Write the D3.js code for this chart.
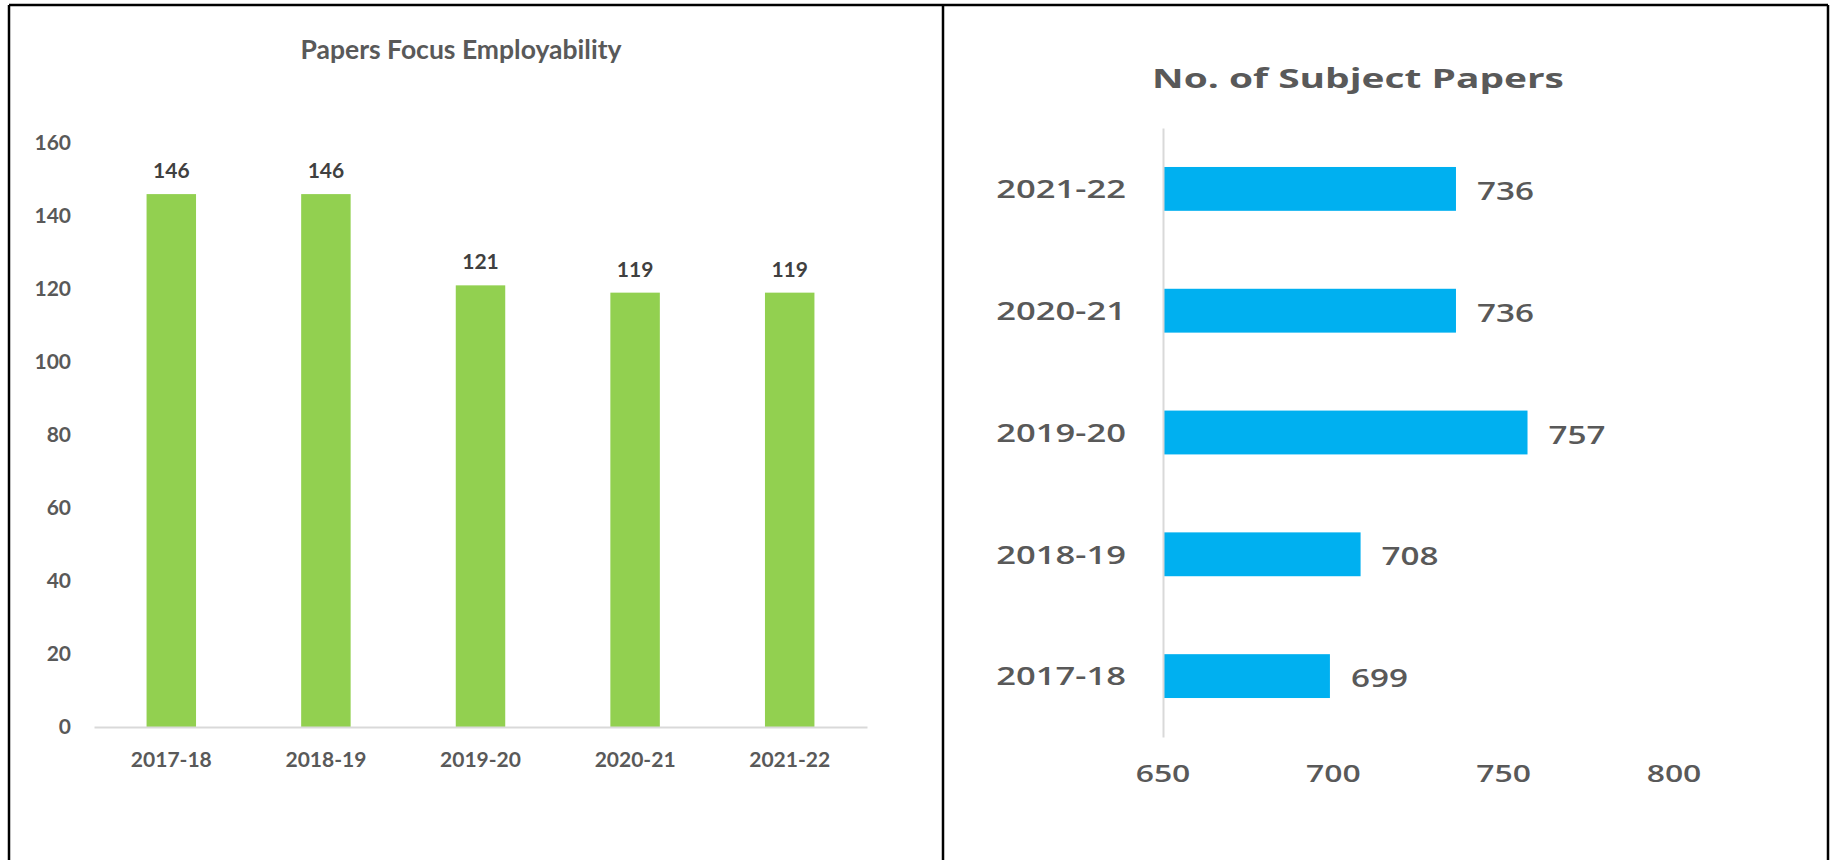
<!DOCTYPE html>
<html>
<head>
<meta charset="utf-8">
<script src="https://cdn.jsdelivr.net/npm/d3@7"></script>
<style>
  body { margin: 0; background: #fff; }
  svg { display: block; }
</style>
</head>
<body>
<div id="container"></div>
<script>
// chart values
const years = ["2017-18", "2018-19", "2019-20", "2020-21", "2021-22"];
const employabilityPapers = [146, 146, 121, 119, 119];
const subjectPapers = [699, 708, 757, 736, 736];
const employabilityTicks = [0, 20, 40, 60, 80, 100, 120, 140, 160];
const subjectTicks = [650, 700, 750, 800];

const widthSVG = 1835,
    heightSVG = 860;

// left panel plot area (column chart)
const left = { x0: 94, x1: 867, top: 143, bottom: 727 };
// right panel plot area (bar chart)
const right = { x0: 1163, x1: 1674, top: 128, bottom: 737 };

// the right picture is stretched sideways, so its text is too
const stretch = 1.33,
    titleStretch = 1.44;

const svg = d3.select('#container')
    .append('svg')
    .attr('width', widthSVG)
    .attr('height', heightSVG);

// frame round both panels
const frame = svg.append('g')
    .attr('stroke', '#000')
    .attr('stroke-width', 2.5);
frame.append('line').attr('x1', 9).attr('x2', 1828).attr('y1', 5).attr('y2', 5);
[9, 943, 1828].forEach(x => {
    frame.append('line').attr('x1', x).attr('x2', x).attr('y1', 5).attr('y2', heightSVG);
});

// ---------- left: Papers Focus Employability ----------
const xCol = d3.scaleBand()
    .domain(years)
    .range([left.x0, left.x1])
    .paddingInner(0.68)
    .paddingOuter(0.34);

const yCol = d3.scaleLinear()
    .domain([0, 160])
    .range([left.bottom, left.top]);

const leftG = svg.append('g')
    .style('font-family', 'Lato, "Open Sans", sans-serif')
    .style('font-weight', 'bold');

leftG.append('text')
    .attr('x', 461)
    .attr('y', 59)
    .attr('text-anchor', 'middle')
    .attr('fill', '#595959')
    .style('font-size', '26.5px')
    .text('Papers Focus Employability');

// y axis: labels only
const yAxisL = leftG.append('g')
    .attr('transform', `translate(${left.x0},0)`)
    .call(d3.axisLeft(yCol).tickValues(employabilityTicks).tickSize(0).tickPadding(23));
yAxisL.select('.domain').remove();
yAxisL.selectAll('text')
    .attr('fill', '#595959')
    .style('font-size', '21px')
    .style('font-family', 'Lato, sans-serif');

leftG.selectAll('rect.col')
    .data(employabilityPapers)
    .join('rect')
    .attr('class', 'col')
    .attr('x', (d, i) => xCol(years[i]))
    .attr('y', d => yCol(d))
    .attr('width', xCol.bandwidth())
    .attr('height', d => yCol(0) - yCol(d))
    .attr('fill', '#92d050');

leftG.selectAll('text.val')
    .data(employabilityPapers)
    .join('text')
    .attr('class', 'val')
    .attr('x', (d, i) => xCol(years[i]) + xCol.bandwidth() / 2)
    .attr('y', d => yCol(d) - 16)
    .attr('text-anchor', 'middle')
    .attr('fill', '#404040')
    .style('font-size', '21px')
    .text(d => d);

const xAxisL = leftG.append('g')
    .attr('transform', `translate(0,${left.bottom})`)
    .call(d3.axisBottom(xCol).tickSize(0).tickPadding(25));
xAxisL.select('.domain')
    .attr('stroke', '#d9d9d9')
    .attr('stroke-width', 2);
xAxisL.selectAll('text')
    .attr('fill', '#595959')
    .style('font-size', '21px')
    .style('font-family', 'Lato, sans-serif');

// ---------- right: No. of Subject Papers ----------
const yBar = d3.scaleBand()
    .domain(years.slice().reverse())
    .range([right.top, right.bottom])
    .paddingInner(0.64)
    .paddingOuter(0.32);

const xBar = d3.scaleLinear()
    .domain([650, 800])
    .range([right.x0, right.x1]);

const rightG = svg.append('g')
    .style('font-family', '"Open Sans", sans-serif')
    .attr('fill', '#595959');

rightG.append('text')
    .attr('transform', `translate(1358,88) scale(${titleStretch},1)`)
    .attr('text-anchor', 'middle')
    .style('font-size', '27px')
    .style('font-weight', 'bold')
    .text('No. of Subject Papers');

rightG.selectAll('rect.bar')
    .data(subjectPapers)
    .join('rect')
    .attr('class', 'bar')
    .attr('x', xBar(650))
    .attr('y', (d, i) => yBar(years[i]))
    .attr('width', d => xBar(d) - xBar(650))
    .attr('height', yBar.bandwidth())
    .attr('fill', '#00b0f0');

// vertical axis line at 650
const yAxisR = rightG.append('g')
    .attr('transform', `translate(${right.x0},0)`)
    .call(d3.axisLeft(yBar).tickSize(0).tickFormat(''));
yAxisR.select('.domain')
    .attr('stroke', '#d9d9d9')
    .attr('stroke-width', 2);

rightG.selectAll('text.cat')
    .data(years)
    .join('text')
    .attr('class', 'cat')
    .attr('transform', d => `translate(1126,${yBar(d) + yBar.bandwidth() / 2}) scale(${stretch},1)`)
    .attr('dy', '0.36em')
    .attr('text-anchor', 'end')
    .style('font-size', '26px')
    .style('font-weight', 600)
    .text(d => d);

rightG.selectAll('text.val')
    .data(subjectPapers)
    .join('text')
    .attr('class', 'val')
    .attr('transform', (d, i) => `translate(${xBar(d) + 21},${yBar(years[i]) + yBar.bandwidth() / 2 + 2}) scale(${stretch},1)`)
    .attr('dy', '0.36em')
    .style('font-size', '25px')
    .style('font-weight', 600)
    .text(d => d);

rightG.selectAll('text.tick')
    .data(subjectTicks)
    .join('text')
    .attr('class', 'tick')
    .attr('transform', d => `translate(${xBar(d)},782) scale(${stretch},1)`)
    .attr('text-anchor', 'middle')
    .style('font-size', '24px')
    .style('font-weight', 600)
    .text(d => d);
</script>
</body>
</html>
